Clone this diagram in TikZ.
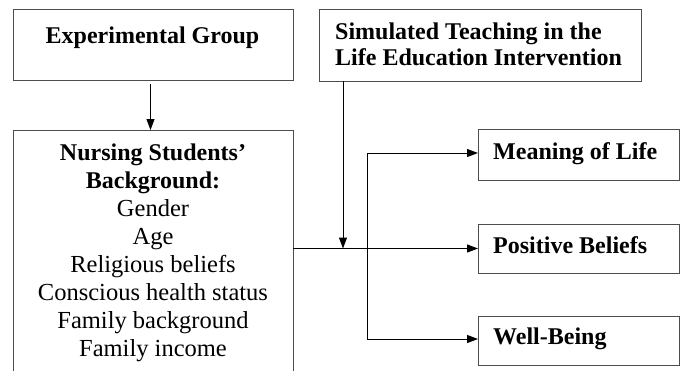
\documentclass[tikz,border=0pt]{standalone}
\usepackage{fontspec}
\setmainfont{Liberation Serif}
\usetikzlibrary{arrows.meta}
\begin{document}
\begin{tikzpicture}[x=1pt,y=-1pt,
  box/.style={draw=black!70, line width=1pt, inner sep=0pt, outer sep=0pt},
  txt/.style={inner sep=0pt, font=\fontsize{24.5}{28}\selectfont},
  btxt/.style={inner sep=0pt, font=\fontsize{24}{28}\selectfont\bfseries},
  conn/.style={draw=black, line width=1pt},
  arr/.style={conn, -{Triangle[length=11pt,width=8pt]}}]
\useasboundingbox (0,0) rectangle (683,370);
\fill[white] (0,0) rectangle (683,370);
% boxes
\node[box, minimum width=280pt, minimum height=71pt, anchor=north west] (exp) at (13,9) {};
\node[box, minimum width=322pt, minimum height=72pt, anchor=north west] (sim) at (319,9) {};
\node[box, minimum width=280pt, minimum height=260pt, anchor=north west] (nurs) at (13,130) {};
\node[box, minimum width=201pt, minimum height=51pt, anchor=north west] (mean) at (478,129) {};
\node[box, minimum width=201pt, minimum height=49pt, anchor=north west] (pos) at (478,224) {};
\node[box, minimum width=201pt, minimum height=49pt, anchor=north west] (well) at (478,316) {};
% texts
\node[btxt, anchor=base] (expT) at (152.5,43) {Experimental Group};
\node[btxt, anchor=base west] (simT1) at (335,39.5) {Simulated Teaching in the};
\node[btxt, anchor=base west] (simT2) at (335,65) {Life Education Intervention};
\node[btxt, anchor=base] (n1) at (153,160) {Nursing Students’};
\node[btxt, anchor=base] (n2) at (153,188) {Background:};
\node[txt, anchor=base] (n3) at (153,216) {Gender};
\node[txt, anchor=base] (n4) at (153,244) {Age};
\node[txt, anchor=base] (n5) at (153,272) {Religious beliefs};
\node[txt, anchor=base] (n6) at (153,300) {Conscious health status};
\node[txt, anchor=base] (n7) at (153,328) {Family background};
\node[txt, anchor=base] (n8) at (153,356) {Family income};
\node[btxt, anchor=base west] (meanT) at (493,159) {Meaning of Life};
\node[btxt, anchor=base west] (posT) at (493,253) {Positive Beliefs};
\node[btxt, anchor=base west] (wellT) at (493,344) {Well-Being};
% connectors
\coordinate (a0) at (150.5,84);
\draw[arr] (a0) -- (a0 |- nurs.north);
\coordinate (j) at (343,248.5);
\draw[arr] (j |- sim.south) -- (j);
\draw[arr] (nurs.east |- pos.west) -- (pos.west);
\coordinate (b) at (367,248.5);
\draw[arr] (b) |- ([yshift=1.5pt]mean.west);
\draw[arr] (b) |- ([yshift=1.5pt]well.west);
\end{tikzpicture}
\end{document}
